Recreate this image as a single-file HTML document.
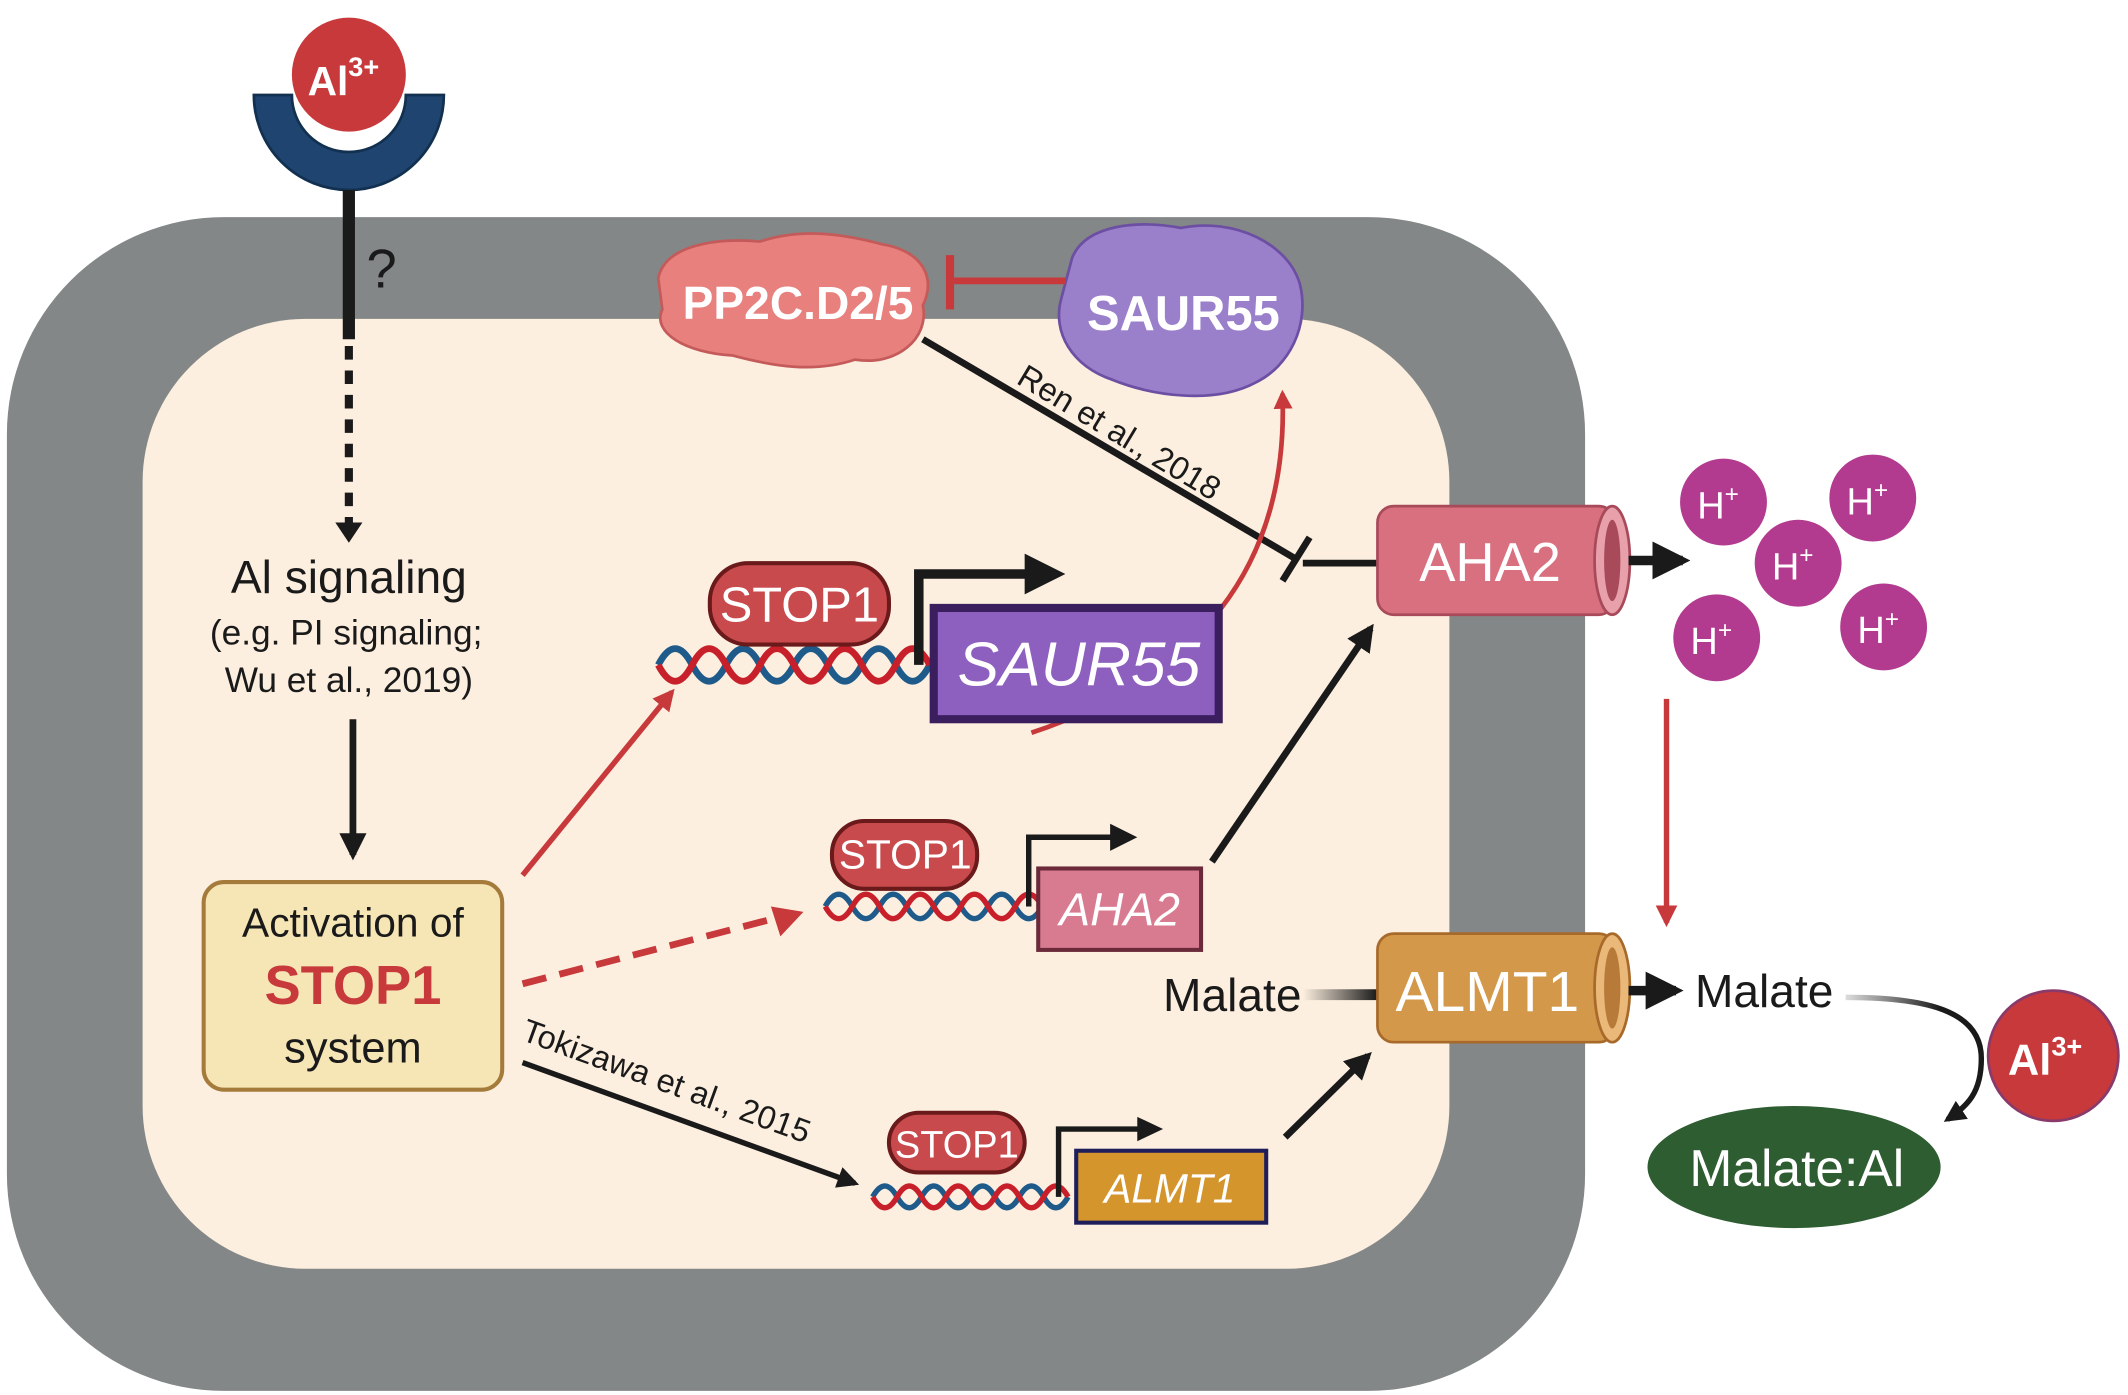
<!DOCTYPE html>
<html><head><meta charset="utf-8"><style>
html,body{margin:0;padding:0;background:#fff}
svg{display:block}
text{font-family:"Liberation Sans",sans-serif}
</style></head><body>
<svg width="2128" height="1395" viewBox="0 0 1568 1028" xmlns="http://www.w3.org/2000/svg">
<defs>
<marker id="ab" viewBox="0 0 10 10" refX="8" refY="5" markerWidth="4" markerHeight="4" orient="auto"><path d="M0,0L10,5L0,10z" fill="#1a1a1a"/></marker>
<marker id="ar" viewBox="0 0 10 10" refX="8" refY="5" markerWidth="4" markerHeight="4" orient="auto"><path d="M0,0L10,5L0,10z" fill="#c8393b"/></marker>
<linearGradient id="fadeL" gradientUnits="userSpaceOnUse" x1="960" y1="0" x2="1015" y2="0"><stop offset="0" stop-color="#fcefdf"/><stop offset="1" stop-color="#1a1a1a"/></linearGradient>
<linearGradient id="fadeR" gradientUnits="userSpaceOnUse" x1="1360" y1="0" x2="1430" y2="0"><stop offset="0" stop-color="#ddd"/><stop offset="1" stop-color="#1a1a1a"/></linearGradient>
</defs>
<rect x="5" y="160" width="1163" height="865" rx="160" fill="#838787"/>
<rect x="105" y="235" width="963" height="700" rx="120" fill="#fcefdf"/>

<!-- receptor -->
<path d="M187,70 L215,70 A42,42 0 0 0 299,70 L327,70 A70,70 0 0 1 187,70 Z" fill="#1f4470" stroke="#12304f" stroke-width="2"/>
<circle cx="257" cy="55" r="42" fill="#c8393b"/>
<text x="253" y="70" font-size="30" fill="#fff" font-weight="bold" text-anchor="middle">Al<tspan font-size="20" dy="-14">3+</tspan></text>
<line x1="257" y1="140" x2="257" y2="250" stroke="#1a1a1a" stroke-width="9"/>
<text x="270" y="212" font-size="40" fill="#1a1a1a">?</text>
<line x1="257" y1="255" x2="257" y2="385" stroke="#1a1a1a" stroke-width="6" stroke-dasharray="10,8"/>
<path d="M247,385 L267,385 L257,400 Z" fill="#1a1a1a"/>
<text x="257" y="437" font-size="34" text-anchor="middle" fill="#1a1a1a">Al signaling</text>
<text x="255" y="475" font-size="26" text-anchor="middle" fill="#1a1a1a">(e.g. PI signaling;</text>
<text x="257" y="510" font-size="26" text-anchor="middle" fill="#1a1a1a">Wu et al., 2019)</text>
<line x1="260" y1="530" x2="260" y2="630" stroke="#1a1a1a" stroke-width="5" marker-end="url(#ab)"/>

<rect x="150" y="650" width="220" height="153" rx="15" fill="#f7e6b5" stroke="#a57b3c" stroke-width="3"/>
<text x="260" y="690" font-size="30" text-anchor="middle" fill="#1a1a1a">Activation of</text>
<text x="260" y="740" font-size="40" font-weight="bold" text-anchor="middle" fill="#c8393b">STOP1</text>
<text x="260" y="783" font-size="32" text-anchor="middle" fill="#1a1a1a">system</text>

<!-- blobs -->
<path d="M485,205 C490,180 530,175 560,178 C590,168 620,172 650,180 C680,185 690,205 680,225 C685,250 660,270 630,265 C600,275 570,270 540,262 C505,260 480,245 488,228 Z" fill="#e8807e" stroke="#c45a5a" stroke-width="2"/>
<text x="588" y="235" font-size="34" font-weight="bold" text-anchor="middle" fill="#fff">PP2C.D2/5</text>
<path d="M790,190 C800,165 840,162 870,168 C910,160 950,180 958,210 C965,240 950,270 925,282 C895,298 850,292 820,280 C790,270 775,245 782,220 Z" fill="#9a7fcb" stroke="#6c4fa3" stroke-width="2"/>
<text x="872" y="243" font-size="36" font-weight="bold" text-anchor="middle" fill="#fff">SAUR55</text>
<line x1="785" y1="207" x2="703" y2="207" stroke="#c8393b" stroke-width="5"/>
<line x1="700" y1="188" x2="700" y2="228" stroke="#c8393b" stroke-width="6"/>

<line x1="680" y1="250" x2="955" y2="412" stroke="#1a1a1a" stroke-width="5"/>
<line x1="945" y1="428" x2="965" y2="396" stroke="#1a1a1a" stroke-width="5"/>
<line x1="960" y1="415" x2="1015" y2="415" stroke="#1a1a1a" stroke-width="5"/>
<text x="0" y="0" font-size="24" fill="#1a1a1a" transform="translate(748,282) rotate(31)">Ren et al., 2018</text>

<path d="M760,540 C880,500 950,420 945,290" fill="none" stroke="#c8393b" stroke-width="3.5" marker-end="url(#ar)"/>

<!-- AHA2 channel -->
<rect x="1015" y="373" width="175" height="80" rx="12" fill="#d9707f" stroke="#a84a5a" stroke-width="2"/>
<ellipse cx="1188" cy="413" rx="13" ry="40" fill="#e8a0ab" stroke="#a84a5a" stroke-width="2"/>
<ellipse cx="1188" cy="413" rx="6" ry="30" fill="#a84a5a"/>
<text x="1098" y="428" font-size="40" text-anchor="middle" fill="#fff">AHA2</text>
<line x1="1200" y1="413" x2="1240" y2="413" stroke="#1a1a1a" stroke-width="7" marker-end="url(#ab)"/>

<!-- H+ -->
<g fill="#b23a8f"><circle cx="1270" cy="370" r="32"/><circle cx="1380" cy="367" r="32"/><circle cx="1325" cy="415" r="32"/><circle cx="1265" cy="470" r="32"/><circle cx="1388" cy="462" r="32"/></g>
<g font-size="28" fill="#fff" text-anchor="middle">
<text x="1266" y="382">H<tspan font-size="18" dy="-12">+</tspan></text>
<text x="1376" y="379">H<tspan font-size="18" dy="-12">+</tspan></text>
<text x="1321" y="427">H<tspan font-size="18" dy="-12">+</tspan></text>
<text x="1261" y="482">H<tspan font-size="18" dy="-12">+</tspan></text>
<text x="1384" y="474">H<tspan font-size="18" dy="-12">+</tspan></text>
</g>
<line x1="1228" y1="515" x2="1228" y2="680" stroke="#c8393b" stroke-width="4" marker-end="url(#ar)"/>

<!-- ALMT1 channel -->
<rect x="955" y="729" width="62" height="8" fill="url(#fadeL)"/>
<rect x="1015" y="688" width="175" height="80" rx="12" fill="#d4984a" stroke="#a86a2a" stroke-width="2"/>
<ellipse cx="1188" cy="728" rx="13" ry="40" fill="#eab878" stroke="#a86a2a" stroke-width="2"/>
<ellipse cx="1188" cy="728" rx="6" ry="30" fill="#b87a38"/>
<text x="1096" y="745" font-size="42" text-anchor="middle" fill="#fff">ALMT1</text>
<line x1="1200" y1="730" x2="1235" y2="730" stroke="#1a1a1a" stroke-width="7" marker-end="url(#ab)"/>
<text x="908" y="745" font-size="34" text-anchor="middle" fill="#1a1a1a">Malate</text>
<text x="1300" y="742" font-size="34" text-anchor="middle" fill="#1a1a1a">Malate</text>
<path d="M1360,735 C1420,735 1460,745 1460,780 C1460,805 1450,815 1435,825" fill="none" stroke="url(#fadeR)" stroke-width="4" marker-end="url(#ab)"/>
<circle cx="1513" cy="778" r="48" fill="#c8393b" stroke="#8a3a6a" stroke-width="2"/>
<text x="1507" y="792" font-size="32" font-weight="bold" text-anchor="middle" fill="#fff">Al<tspan font-size="20" dy="-14">3+</tspan></text>
<ellipse cx="1322" cy="860" rx="108" ry="45" fill="#2e5d32"/>
<text x="1324" y="874" font-size="38" text-anchor="middle" fill="#fff">Malate:Al</text>

<!-- SAUR55 gene -->
<path d="M485,490 q12.5,-24 25,0 t25,0 t25,0 t25,0 t25,0 t25,0 t25,0 t25,0" fill="none" stroke="#1e5a8a" stroke-width="5"/>
<path d="M485,490 q12.5,24 25,0 t25,0 t25,0 t25,0 t25,0 t25,0 t25,0 t25,0" fill="none" stroke="#c8202a" stroke-width="5"/>
<rect x="523" y="415" width="132" height="60" rx="28" fill="#c94a4c" stroke="#6a1a1a" stroke-width="3"/>
<text x="589" y="458" font-size="36" text-anchor="middle" fill="#fff">STOP1</text>
<path d="M677,490 L677,423 L760,423" fill="none" stroke="#1a1a1a" stroke-width="7"/>
<path d="M755,408 L785,423 L755,438 Z" fill="#1a1a1a"/>
<rect x="688" y="448" width="210" height="82" fill="#8d5fbf" stroke="#3a1e5e" stroke-width="6"/>
<text x="795" y="505" font-size="46" font-style="italic" text-anchor="middle" fill="#fff">SAUR55</text>

<!-- AHA2 gene -->
<path d="M608,668 q10,-18 20,0 t20,0 t20,0 t20,0 t20,0 t20,0 t20,0 t20,0" fill="none" stroke="#1e5a8a" stroke-width="4"/>
<path d="M608,668 q10,18 20,0 t20,0 t20,0 t20,0 t20,0 t20,0 t20,0 t20,0" fill="none" stroke="#c8202a" stroke-width="4"/>
<rect x="613" y="605" width="107" height="50" rx="24" fill="#c94a4c" stroke="#6a1a1a" stroke-width="3"/>
<text x="667" y="640" font-size="30" text-anchor="middle" fill="#fff">STOP1</text>
<path d="M758,668 L758,617 L820,617" fill="none" stroke="#1a1a1a" stroke-width="4"/>
<path d="M818,607 L838,617 L818,627 Z" fill="#1a1a1a"/>
<rect x="765" y="640" width="120" height="60" fill="#d97b90" stroke="#6a2a3a" stroke-width="3"/>
<text x="825" y="682" font-size="34" font-style="italic" text-anchor="middle" fill="#fff">AHA2</text>
<line x1="385" y1="725" x2="570" y2="677" stroke="#c8393b" stroke-width="5" stroke-dasharray="18,10"/>
<path d="M568,668 L592,672 L575,690 Z" fill="#c8393b"/>
<line x1="385" y1="645" x2="495" y2="510" stroke="#c8393b" stroke-width="4" marker-end="url(#ar)"/>
<line x1="893" y1="635" x2="1010" y2="463" stroke="#1a1a1a" stroke-width="5" marker-end="url(#ab)"/>

<!-- ALMT1 gene -->
<path d="M643,882 q9,-16 18,0 t18,0 t18,0 t18,0 t18,0 t18,0 t18,0 t18,0" fill="none" stroke="#1e5a8a" stroke-width="4"/>
<path d="M643,882 q9,16 18,0 t18,0 t18,0 t18,0 t18,0 t18,0 t18,0 t18,0" fill="none" stroke="#c8202a" stroke-width="4"/>
<rect x="655" y="820" width="100" height="44" rx="22" fill="#c94a4c" stroke="#6a1a1a" stroke-width="3"/>
<text x="705" y="853" font-size="28" text-anchor="middle" fill="#fff">STOP1</text>
<path d="M780,882 L780,832 L840,832" fill="none" stroke="#1a1a1a" stroke-width="4"/>
<path d="M838,823 L857,832 L838,841 Z" fill="#1a1a1a"/>
<rect x="793" y="848" width="140" height="53" fill="#d4952c" stroke="#1e1e5a" stroke-width="3"/>
<text x="862" y="886" font-size="30" font-style="italic" text-anchor="middle" fill="#fff">ALMT1</text>
<line x1="385" y1="783" x2="630" y2="872" stroke="#1a1a1a" stroke-width="4" marker-end="url(#ab)"/>
<text x="0" y="0" font-size="24" fill="#1a1a1a" transform="translate(383,766) rotate(20)">Tokizawa et al., 2015</text>
<line x1="947" y1="838" x2="1008" y2="778" stroke="#1a1a1a" stroke-width="5" marker-end="url(#ab)"/>
</svg>
</body></html>
